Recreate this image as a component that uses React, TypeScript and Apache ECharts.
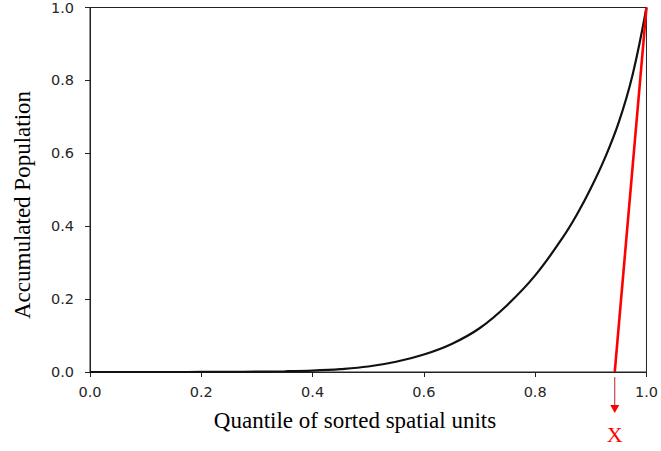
import { useEffect, useRef } from "react";
import * as echarts from "echarts";

// Lorenz-style curve: accumulated population share vs. quantile of sorted units
const quantiles = [
  0, 0.05, 0.1, 0.15, 0.2, 0.25, 0.3, 0.35, 0.4, 0.45, 0.5, 0.55, 0.6, 0.65,
  0.7, 0.75, 0.8, 0.85, 0.875, 0.9, 0.925, 0.95, 0.975, 1.0,
];
const accumulated = [
  0, 0, 0, 0, 0.0001, 0.0003, 0.001, 0.002, 0.004, 0.008, 0.015, 0.028, 0.048,
  0.077, 0.12, 0.184, 0.265, 0.37, 0.432, 0.504, 0.586, 0.684, 0.815, 1.0,
];

// Straight line from the cut-off quantile on the x axis up to (1, 1)
const cutoffQuantile = 0.943;
const cutoffLine = [
  [cutoffQuantile, 0],
  [1, 1],
];

const axisTicks = [0, 0.2, 0.4, 0.6, 0.8, 1.0];
const xTitle = "Quantile of sorted spatial units";
const yTitle = "Accumulated Population";
const cutoffLabel = "X";

const W = 661;
const H = 451;

export default function App() {
  const ref = useRef<HTMLDivElement>(null);

  useEffect(() => {
    document.body.style.margin = "0";
    if (!ref.current) return;
    const chart = echarts.init(ref.current, undefined, { renderer: "svg" });

    const tickFont = {
      fontFamily: "DejaVu Sans",
      fontSize: 14.5,
      color: "#262626",
    };
    const axisCommon = {
      type: "value" as const,
      min: axisTicks[0],
      max: axisTicks[axisTicks.length - 1],
      interval: 0.2,
      axisLine: { show: true, lineStyle: { color: "#222", width: 1 } },
      axisTick: { show: true, inside: false, length: 5, lineStyle: { color: "#222" } },
      splitLine: { show: false },
    };

    chart.setOption({
      animation: false,
      backgroundColor: "#fff",
      grid: {
        left: 90,
        right: 10,
        top: 7,
        bottom: 79,
        show: true,
        borderColor: "#222",
        borderWidth: 1,
        backgroundColor: "transparent",
      },
      xAxis: {
        ...axisCommon,
        axisLabel: {
          ...tickFont,
          margin: 12,
          formatter: (v: number) => v.toFixed(1),
        },
      },
      yAxis: {
        ...axisCommon,
        axisLabel: {
          ...tickFont,
          margin: 16,
          formatter: (v: number) => v.toFixed(1),
        },
      },
      series: [
        {
          type: "line",
          data: quantiles.map((q, i) => [q, accumulated[i]]),
          smooth: 0.4,
          showSymbol: false,
          lineStyle: { color: "#111", width: 2.2 },
          z: 3,
        },
        {
          type: "line",
          data: cutoffLine,
          showSymbol: false,
          lineStyle: { color: "#ff0000", width: 2.6 },
          z: 4,
        },
      ],
    });

    const [ax, ay] = chart.convertToPixel({ gridIndex: 0 }, [cutoffQuantile, 0]) as number[];

    chart.setOption({
      graphic: [
        {
          type: "text",
          x: 22,
          y: 205,
          rotation: Math.PI / 2,
          style: {
            text: yTitle,
            font: '23px "Liberation Serif"',
            fill: "#000",
            align: "center",
            verticalAlign: "middle",
          },
        },
        {
          type: "text",
          x: 355,
          y: 420,
          style: {
            text: xTitle,
            font: '23px "Liberation Serif"',
            fill: "#000",
            align: "center",
            verticalAlign: "middle",
          },
        },
        {
          type: "line",
          shape: { x1: ax, y1: ay + 5, x2: ax, y2: ay + 34 },
          style: { stroke: "#b02a2a", lineWidth: 1 },
        },
        {
          type: "polygon",
          shape: {
            points: [
              [ax - 4.5, ay + 33],
              [ax + 4.5, ay + 33],
              [ax, ay + 41],
            ],
          },
          style: { fill: "#ff0000" },
        },
        {
          type: "text",
          x: ax,
          y: ay + 62,
          style: {
            text: cutoffLabel,
            font: '22px "Liberation Serif"',
            fill: "#ff0000",
            align: "center",
            verticalAlign: "middle",
          },
        },
      ],
    });

    return () => chart.dispose();
  }, []);

  return <div ref={ref} style={{ width: W, height: H }} />;
}
